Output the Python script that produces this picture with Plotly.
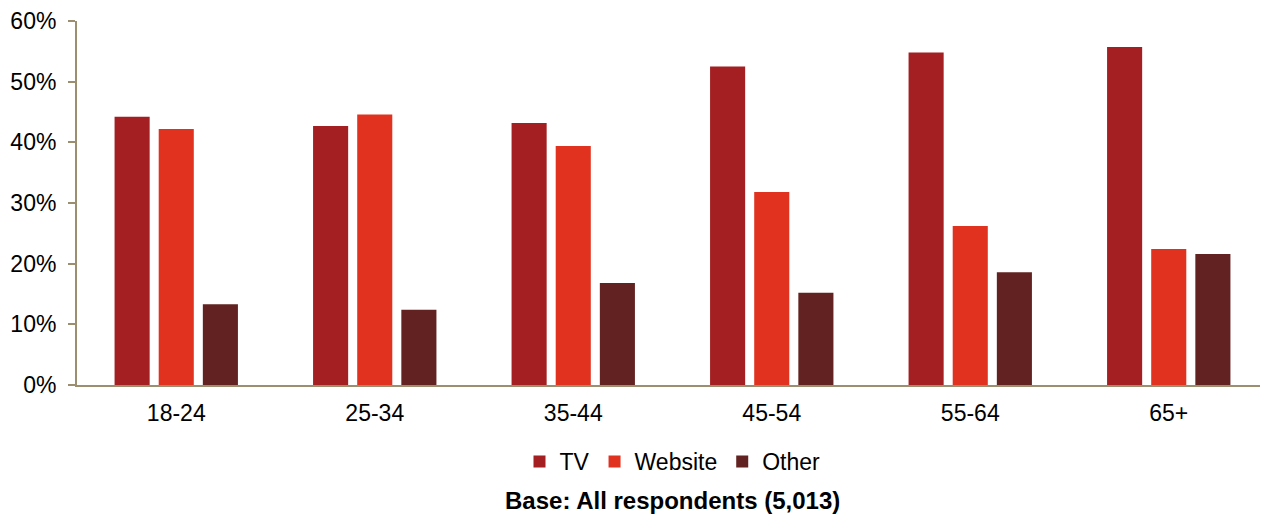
import plotly.graph_objects as go

categories = ["18-24", "25-34", "35-44", "45-54", "55-64", "65+"]
tv = [44.2, 42.7, 43.2, 52.5, 54.8, 55.7]
website = [42.2, 44.6, 39.4, 31.8, 26.2, 22.4]
other = [13.3, 12.4, 16.8, 15.2, 18.6, 21.6]
y_ticks = [0, 10, 20, 30, 40, 50, 60]

series = [("TV", tv, "#A31F21"), ("Website", website, "#E0321F"), ("Other", other, "#622221")]

fig = go.Figure()
for name, vals, col in series:
    fig.add_trace(go.Bar(x=categories, y=[v / 100 for v in vals], name=name,
                         marker=dict(color=col, line=dict(width=0))))

axis_col = "#9C8F70"
fig.update_layout(
    width=1260, height=507,
    margin=dict(l=69, r=0, t=13, b=130),
    paper_bgcolor="white", plot_bgcolor="white",
    barmode="group", bargap=0.333, bargroupgap=0.205,
    font=dict(family="Liberation Sans, Arial, sans-serif", size=23, color="#000000"),
    xaxis=dict(showline=True, linecolor=axis_col, linewidth=2, ticks="",
               showgrid=False, tickfont=dict(size=23), ticklabelstandoff=6),
    yaxis=dict(range=[0, 0.6], tickvals=[t / 100 for t in y_ticks], tickformat=".0%",
               showline=True, linecolor=axis_col, linewidth=2, ticks="outside",
               tickcolor=axis_col, ticklen=7, tickwidth=2, showgrid=False, zeroline=False,
               tickfont=dict(size=23), ticklabelstandoff=7),
    legend=dict(orientation="h", x=0.5, xanchor="center", y=-0.151, yanchor="top",
                font=dict(size=23), itemwidth=30, tracegroupgap=0),
    annotations=[dict(text="<b>Base: All respondents (5,013)</b>", xref="paper", yref="paper",
                      x=0.5, xanchor="center", y=-0.316, yanchor="middle", showarrow=False,
                      font=dict(size=24))],
)

fig.write_html("out.html")
